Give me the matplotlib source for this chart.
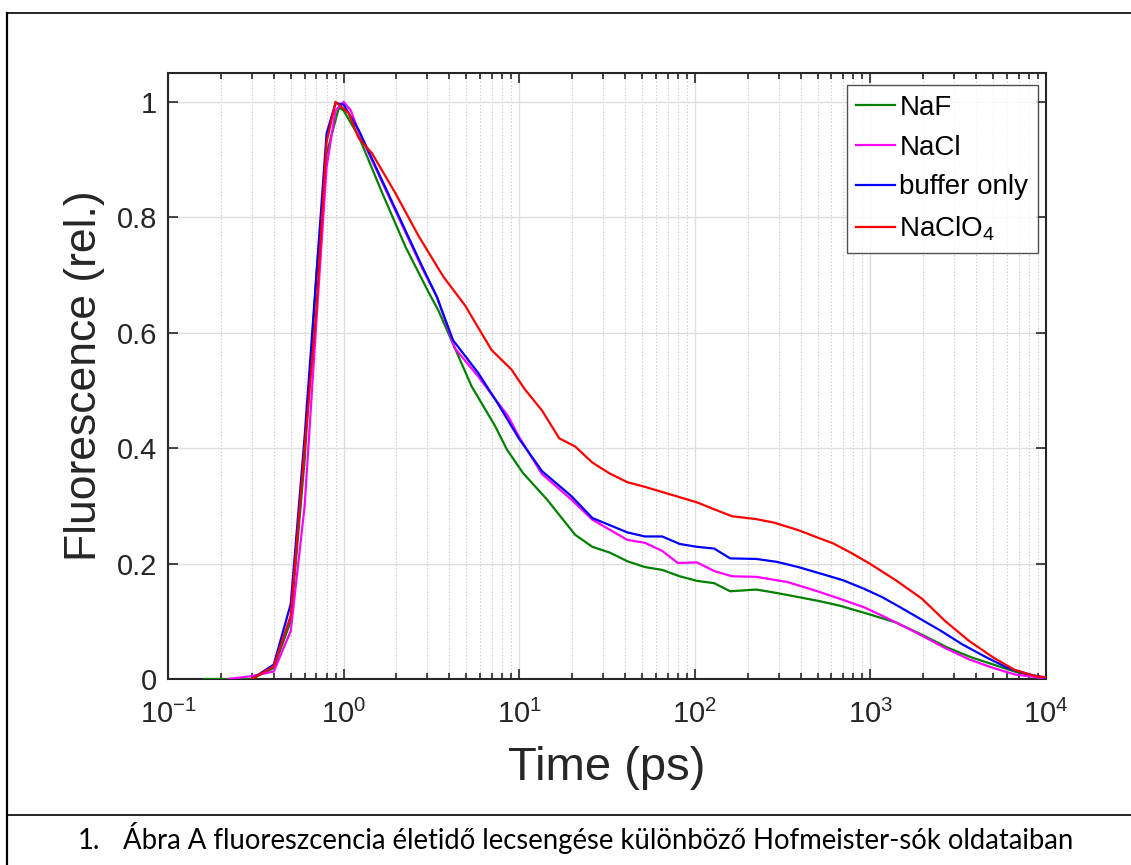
import numpy as np
import matplotlib
matplotlib.use("Agg")
import matplotlib.pyplot as plt
from matplotlib.ticker import LogLocator, NullFormatter, FuncFormatter

plt.rcParams['font.family'] = ['Liberation Sans', 'DejaVu Sans']
plt.rcParams['mathtext.fontset'] = 'custom'
plt.rcParams['mathtext.rm'] = 'Liberation Sans'
plt.rcParams['mathtext.it'] = 'Liberation Sans'

# data (time in ps, fluorescence relative)
t_naf = [0.16, 0.3, 0.4, 0.5, 0.6, 0.7, 0.8, 0.94, 1.0, 1.22, 1.66, 2.25, 3.06, 3.46, 5.36,
         7.3, 8.5, 10.5, 14.4, 20.8, 26.1, 32.8, 41.3, 51.9, 65.2, 82, 103, 129, 159, 224,
         293, 388, 511, 670, 963, 1397, 1927, 2767, 3797, 5024, 6610, 8696, 10000]
f_naf = [0, 0, 0.019, 0.10, 0.38, 0.70, 0.91, 0.99, 0.985, 0.94, 0.842, 0.749, 0.669, 0.639, 0.507,
         0.438, 0.398, 0.357, 0.311, 0.25, 0.229, 0.219, 0.204, 0.194, 0.189, 0.178, 0.17, 0.166, 0.152, 0.155,
         0.149, 0.142, 0.135, 0.127, 0.113, 0.098, 0.078, 0.054, 0.037, 0.025, 0.013, 0.005, 0.002]

t_nacl = [0.22, 0.3, 0.4, 0.5, 0.6, 0.7, 0.8, 0.9, 1.0, 1.1, 1.22, 1.65, 2.15, 2.8, 3.4, 4.3,
          5.85, 8.66, 10, 13.5, 19.8, 26.1, 41.3, 51.9, 65.2, 80, 103, 129, 163, 224, 337, 488,
          670, 925, 1217, 1531, 1968, 2650, 3648, 5024, 6610, 10000]
f_nacl = [0, 0.005, 0.013, 0.083, 0.30, 0.62, 0.887, 0.985, 1.0, 0.985, 0.948, 0.862, 0.787, 0.712, 0.662, 0.573,
          0.524, 0.455, 0.419, 0.355, 0.311, 0.276, 0.241, 0.236, 0.222, 0.201, 0.202, 0.187, 0.178, 0.177, 0.168, 0.153,
          0.139, 0.124, 0.107, 0.092, 0.075, 0.054, 0.034, 0.019, 0.008, 0.001]

t_buf = [0.3, 0.4, 0.5, 0.6, 0.7, 0.8, 0.9, 1.0, 1.22, 1.65, 2.15, 2.8, 3.4, 4.2, 5.85, 7.6,
         10, 13.5, 19.8, 26.1, 41.3, 51.9, 65.2, 82, 103, 129, 159, 224, 293, 388, 557, 700,
         925, 1164, 1465, 1927, 2535, 3336, 4610, 6068, 7985, 10000]
f_buf = [0.0, 0.025, 0.13, 0.42, 0.70, 0.945, 0.998, 0.995, 0.951, 0.865, 0.79, 0.715, 0.662, 0.587, 0.53, 0.476,
         0.416, 0.36, 0.317, 0.279, 0.254, 0.247, 0.247, 0.234, 0.229, 0.226, 0.209, 0.208, 0.203, 0.194, 0.18, 0.171,
         0.156, 0.142, 0.125, 0.104, 0.083, 0.06, 0.037, 0.019, 0.008, 0.002]

t_clo4 = [0.3, 0.4, 0.5, 0.6, 0.7, 0.8, 0.9, 1.07, 1.22, 1.45, 1.97, 2.68, 3.7, 4.95, 5.36, 6.96,
          9.05, 10.7, 13.5, 16.9, 20.8, 26.1, 32.8, 41.3, 51.9, 65.2, 82, 103, 129, 163, 224, 282,
          388, 511, 613, 771, 991, 1397, 1968, 2650, 3648, 5024, 6610, 8696, 10000]
f_clo4 = [0, 0.022, 0.11, 0.40, 0.64, 0.93, 1.0, 0.98, 0.937, 0.911, 0.842, 0.767, 0.697, 0.646, 0.628, 0.57,
          0.536, 0.503, 0.465, 0.417, 0.403, 0.375, 0.356, 0.341, 0.333, 0.324, 0.315, 0.306, 0.294, 0.282, 0.277, 0.271,
          0.258, 0.244, 0.235, 0.219, 0.2, 0.171, 0.139, 0.101, 0.066, 0.037, 0.016, 0.005, 0.003]

labels = ['NaF', 'NaCl', 'buffer only', r'NaClO$_\mathregular{4}$']
colors = ['#008000', '#ff00ff', '#0000ff', '#ff0000']
ytick_vals = [0, 0.2, 0.4, 0.6, 0.8, 1]
ytick_labels = ['0', '0.2', '0.4', '0.6', '0.8', '1']
caption_num = '1.'
caption = 'Ábra A fluoreszcencia életidő lecsengése különböző Hofmeister-sók oldataiban'

fig = plt.figure(figsize=(11.31, 8.65), dpi=100)
ax = fig.add_axes([168/1131, 1-679/865, (1046-168)/1131, (679-73)/865])

series = [(t_naf, f_naf), (t_nacl, f_nacl), (t_buf, f_buf), (t_clo4, f_clo4)]
for (t, f), lab, c in zip(series, labels, colors):
    ax.plot(t, f, color=c, lw=1.6, label=lab, zorder=3)

ax.set_xscale('log')
ax.set_xlim(0.1, 1e4)
ax.set_ylim(0, 1.05)
ax.set_yticks(ytick_vals)
ax.set_yticklabels(ytick_labels)
ax.xaxis.set_major_locator(LogLocator(base=10, numticks=10))
ax.xaxis.set_major_formatter(FuncFormatter(
    lambda v, p: r'$\mathregular{10^{%s}}$' % ('-' + str(int(round(-np.log10(v)))) if v < 1
                                               else str(int(round(np.log10(v)))))))
ax.xaxis.set_minor_locator(LogLocator(base=10, subs=np.arange(2, 10), numticks=20))
ax.xaxis.set_minor_formatter(NullFormatter())

ax.grid(True, which='major', color='#dedede', lw=1.0, zorder=0)
ax.grid(True, which='minor', axis='x', color='#c4c4c4', lw=0.8, ls=(0, (1, 2)), zorder=0)
ax.set_axisbelow(True)

ax.tick_params(which='both', direction='in', top=True, right=True, colors='#262626',
               labelsize=21, width=1.2)
ax.tick_params(which='major', length=7)
ax.tick_params(which='minor', length=4)
ax.tick_params(axis='x', which='major', pad=15)
ax.tick_params(axis='y', which='major', pad=8)
for s in ax.spines.values():
    s.set_color('#262626')
    s.set_linewidth(1.5)

ax.set_xlabel('Time (ps)', fontsize=34, color='#262626', labelpad=12)
ax.set_ylabel('Fluorescence (rel.)', fontsize=32, color='#262626', labelpad=8)

leg = ax.legend(loc='upper right', bbox_to_anchor=(1038/1131, 1-85/865),
                bbox_transform=fig.transFigure, borderaxespad=0,
                fontsize=20, handlelength=1.4, handletextpad=0.15,
                fancybox=False, frameon=True, labelspacing=0.5, borderpad=0.35)
leg.get_frame().set_edgecolor('#262626')
leg.get_frame().set_linewidth(1.0)

# document table borders and caption
fig.add_artist(plt.Line2D([7/1131, 1], [1-13/865, 1-13/865], color='black', lw=1.2))
fig.add_artist(plt.Line2D([7/1131, 7/1131], [0, 1-13/865], color='black', lw=1.6))
fig.add_artist(plt.Line2D([7/1131, 1], [1-815/865, 1-815/865], color='black', lw=1.2))
fig.text(78/1131, 1-849/865, caption_num, fontsize=19.8, family=['Lato', 'DejaVu Sans'],
         va='baseline', ha='left')
fig.text(123/1131, 1-849/865, caption, fontsize=19.8, family=['Lato', 'DejaVu Sans'],
         va='baseline', ha='left')

fig.savefig('out.png', dpi=100)
